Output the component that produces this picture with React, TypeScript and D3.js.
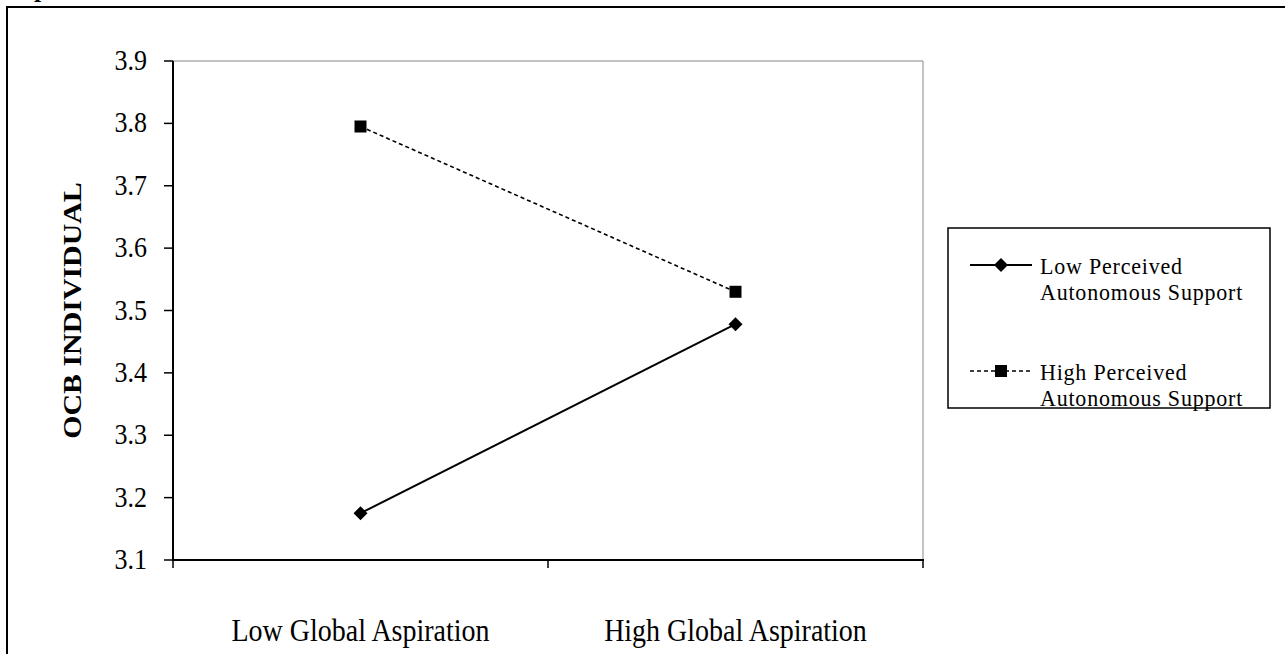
import React from "react";
import * as d3 from "d3";

const categories = ["Low Global Aspiration", "High Global Aspiration"];
const seriesNames = ["Low Perceived Autonomous Support", "High Perceived Autonomous Support"];
const lowSupport = [3.175, 3.478];
const highSupport = [3.795, 3.53];
const yTicks = [3.1, 3.2, 3.3, 3.4, 3.5, 3.6, 3.7, 3.8, 3.9];

const W = 1285;
const H = 654;
const FONT = "'Liberation Serif', 'Times New Roman', serif";
const SY = 1.15;

function SText(props: {
  x: number;
  y: number;
  size: number;
  anchor?: string;
  bold?: boolean;
  rotate?: number;
  spacing?: number;
  sy?: number;
  children: React.ReactNode;
}) {
  const { x, y, size, anchor, bold, rotate, spacing, sy, children } = props;
  const s = sy ?? SY;
  const t = rotate
    ? `translate(${x},${y}) scale(1,${s}) rotate(${rotate})`
    : `translate(${x},${y}) scale(1,${s})`;
  return (
    <text
      transform={t}
      textAnchor={anchor || "start"}
      fontSize={size}
      fontWeight={bold ? "bold" : "normal"}
      letterSpacing={spacing || 0}
      fill="#000"
    >
      {children}
    </text>
  );
}

export default function App() {
  const left = 173, right = 923, top = 61, bottom = 560;
  const xBand = d3.scaleBand<string>().domain(categories).range([left, right]);
  const xPos = (c: string) => (xBand(c) as number) + xBand.bandwidth() / 2;
  const y = d3.scaleLinear().domain([3.1, 3.9]).range([bottom, top]);

  const line = d3
    .line<number>()
    .x((_, i) => xPos(categories[i]))
    .y((v) => y(v));

  const diamond = (cx: number, cy: number, r: number) =>
    `M${cx},${cy - r}L${cx + r},${cy}L${cx},${cy + r}L${cx - r},${cy}Z`;

  const sq = 6;
  const dr = 7;

  const legX = 948, legY = 228, legW = 322, legH = 180;
  const entries = [
    { name: seriesNames[0], lines: ["Low Perceived", "Autonomous Support"], my: 265, dashed: false },
    { name: seriesNames[1], lines: ["High Perceived", "Autonomous Support"], my: 371, dashed: true },
  ];

  return (
    <svg
      width={W}
      height={H}
      style={{ position: "absolute", left: 0, top: 0, background: "#fff" }}
      fontFamily={FONT}
    >
      <rect x={0} y={0} width={W} height={H} fill="#fff" />
      <text x={34} y={-3} fontSize={26} fontWeight="bold" fill="#000">p</text>
      {/* outer frame */}
      <path d={`M7,${H + 5}V7H${W + 5}`} fill="none" stroke="#000" strokeWidth={2} />

      {/* plot frame */}
      <path d={`M${left},${top}H${right}V${bottom}`} fill="none" stroke="#888" strokeWidth={1} />
      <line x1={left} y1={top} x2={left} y2={bottom + 1} stroke="#000" strokeWidth={2} />
      <line x1={left - 1} y1={bottom} x2={right + 1} y2={bottom} stroke="#000" strokeWidth={2} />

      {/* y ticks */}
      {yTicks.map((t) => (
        <g key={t}>
          <line x1={left - 9} x2={left} y1={y(t)} y2={y(t)} stroke="#000" strokeWidth={1.5} />
          <SText x={147} y={y(t) + 9} size={26} anchor="end">
            {t.toFixed(1)}
          </SText>
        </g>
      ))}

      {/* x ticks */}
      {[left, xBand(categories[1]) as number, right].map((xv, i) => (
        <line key={i} x1={xv} x2={xv} y1={bottom} y2={bottom + 8} stroke="#000" strokeWidth={1.5} />
      ))}
      {categories.map((c) => (
        <SText key={c} x={xPos(c)} y={641} size={28} anchor="middle">
          {c}
        </SText>
      ))}

      {/* y title */}
      <SText x={81} y={(top + bottom) / 2} size={26} anchor="middle" bold rotate={-90}>
        OCB INDIVIDUAL
      </SText>

      {/* series */}
      <path d={line(lowSupport) || ""} fill="none" stroke="#000" strokeWidth={2} />
      <path d={line(highSupport) || ""} fill="none" stroke="#000" strokeWidth={1.6} strokeDasharray="4,3" />
      {lowSupport.map((v, i) => (
        <path key={"d" + i} d={diamond(xPos(categories[i]), y(v), dr)} fill="#000" />
      ))}
      {highSupport.map((v, i) => (
        <rect key={"s" + i} x={xPos(categories[i]) - sq} y={y(v) - sq} width={sq * 2} height={sq * 2} fill="#000" />
      ))}

      {/* legend */}
      <rect x={legX} y={legY} width={legW} height={legH} fill="#fff" stroke="#000" strokeWidth={1.5} />
      {entries.map((e) => (
        <g key={e.name}>
          <line
            x1={970}
            x2={1032}
            y1={e.my}
            y2={e.my}
            stroke="#000"
            strokeWidth={e.dashed ? 1.6 : 2}
            strokeDasharray={e.dashed ? "4,3" : undefined}
          />
          {e.dashed ? (
            <rect x={1001 - sq} y={e.my - sq} width={sq * 2} height={sq * 2} fill="#000" />
          ) : (
            <path d={diamond(1001, e.my, dr)} fill="#000" />
          )}
          {e.lines.map((l, k) => (
            <SText key={k} x={1040} y={e.my + 9 + k * 26} size={22} sy={1.08} spacing={0.8}>
              {l}
            </SText>
          ))}
        </g>
      ))}
    </svg>
  );
}
